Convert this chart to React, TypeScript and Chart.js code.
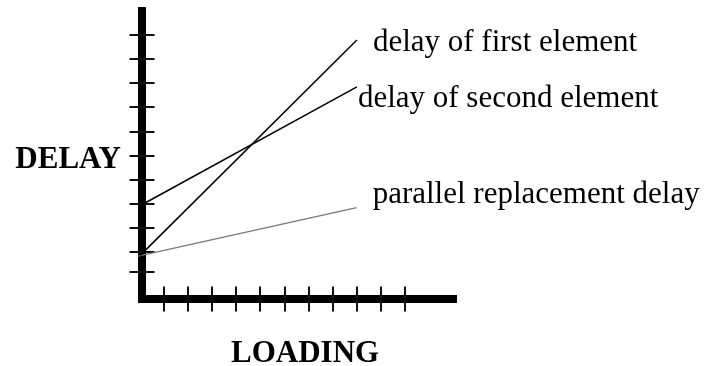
import React, { useEffect, useRef } from "react";
import { Chart, registerables } from "chart.js";

Chart.register(...registerables);

// Data (x = loading units, y = delay units)
const FIRST_X = [0, 9];
const FIRST_Y = [1.85, 10.8];
const SECOND_X = [0, 9];
const SECOND_Y = [3.92, 8.85];
const PARALLEL_X = [-0.08, 8.99];
const PARALLEL_Y = [1.83, 3.84];

const SERIES_LABELS = [
  "delay of first element",
  "delay of second element",
  "parallel replacement delay",
];

const X_TICKS = [1, 2, 3, 4, 5, 6, 7, 8, 9, 10, 11];
const Y_TICKS = [1.17, 2, 3, 4, 5, 6, 7, 8, 9, 10, 11];

const X_MIN = -0.083;
const X_MAX = 13.154;
const Y_MIN = -0.116;
const Y_MAX = 12.166;

const X_TITLE = "LOADING";
const Y_TITLE = "DELAY";

const FONT = "'Liberation Serif', 'Times New Roman', serif";

const pts = (xs: number[], ys: number[]) => xs.map((x, i) => ({ x, y: ys[i] }));

const decorPlugin = {
  id: "decor",
  beforeDatasetsDraw(chart: any) {
    const ctx = chart.ctx as CanvasRenderingContext2D;
    const { left, right, top, bottom } = chart.chartArea;
    const xs = chart.scales.x;
    const ys = chart.scales.y;
    const AW = 8;
    ctx.save();
    ctx.fillStyle = "#000";
    ctx.fillRect(left, top, AW, bottom - top);
    ctx.fillRect(left, bottom - AW, right - left, AW);
    ctx.strokeStyle = "#111";
    ctx.lineWidth = 2;
    const cx = left + AW / 2;
    Y_TICKS.forEach((v) => {
      const py = Math.round(ys.getPixelForValue(v));
      ctx.beginPath();
      ctx.moveTo(cx - 12.5, py);
      ctx.lineTo(cx + 12.5, py);
      ctx.stroke();
    });
    const cy = bottom - AW / 2;
    X_TICKS.forEach((v) => {
      const px = Math.round(xs.getPixelForValue(v));
      ctx.beginPath();
      ctx.moveTo(px, cy - 12.5);
      ctx.lineTo(px, cy + 12.5);
      ctx.stroke();
    });
    ctx.restore();
  },
  afterDatasetsDraw(chart: any) {
    const ctx = chart.ctx as CanvasRenderingContext2D;
    const { left, bottom } = chart.chartArea;
    const xs = chart.scales.x;
    const ys = chart.scales.y;
    ctx.save();
    ctx.fillStyle = "#000";
    ctx.textAlign = "left";
    ctx.textBaseline = "middle";
    ctx.font = `31px ${FONT}`;
    const ends = [
      [FIRST_X[1], FIRST_Y[1], 16, 3],
      [SECOND_X[1], SECOND_Y[1], 1, 12],
      [PARALLEL_X[1], PARALLEL_Y[1], 16, -13],
    ];
    ends.forEach(([x, y, dx, dy], i) => {
      ctx.fillText(SERIES_LABELS[i], xs.getPixelForValue(x) + dx, ys.getPixelForValue(y) + dy);
    });
    ctx.font = `bold 31px ${FONT}`;
    ctx.textBaseline = "alphabetic";
    ctx.textAlign = "right";
    ctx.fillText(Y_TITLE, left - 17, ys.getPixelForValue(5.48));
    ctx.textAlign = "center";
    ctx.fillText(X_TITLE, xs.getPixelForValue(6.85), bottom + 59);
    ctx.restore();
  },
};

export default function App() {
  const ref = useRef<HTMLCanvasElement | null>(null);
  useEffect(() => {
    if (!ref.current) return;
    const chart = new Chart(ref.current, {
      type: "scatter",
      data: {
        datasets: [
          {
            label: SERIES_LABELS[0],
            data: pts(FIRST_X, FIRST_Y),
            showLine: true,
            borderColor: "#000",
            borderWidth: 1.5,
            pointRadius: 0,
            clip: false,
          } as any,
          {
            label: SERIES_LABELS[1],
            data: pts(SECOND_X, SECOND_Y),
            showLine: true,
            borderColor: "#000",
            borderWidth: 1.5,
            pointRadius: 0,
            clip: false,
          },
          {
            label: SERIES_LABELS[2],
            data: pts(PARALLEL_X, PARALLEL_Y),
            showLine: true,
            borderColor: "#7a7a7a",
            borderWidth: 1.4,
            pointRadius: 0,
            clip: false,
          },
        ],
      },
      options: {
        responsive: false,
        animation: false,
        devicePixelRatio: 1,
        layout: { padding: { left: 138, right: 257, top: 7, bottom: 63 } },
        plugins: { legend: { display: false }, tooltip: { enabled: false } },
        scales: {
          x: { type: "linear", min: X_MIN, max: X_MAX, display: false },
          y: { type: "linear", min: Y_MIN, max: Y_MAX, display: false },
        },
      },
      plugins: [decorPlugin],
    });
    return () => chart.destroy();
  }, []);
  return (
    <div style={{ position: "absolute", left: 0, top: 0, width: 714, height: 366, background: "#fff" }}>
      <canvas ref={ref} width={714} height={366} />
    </div>
  );
}
